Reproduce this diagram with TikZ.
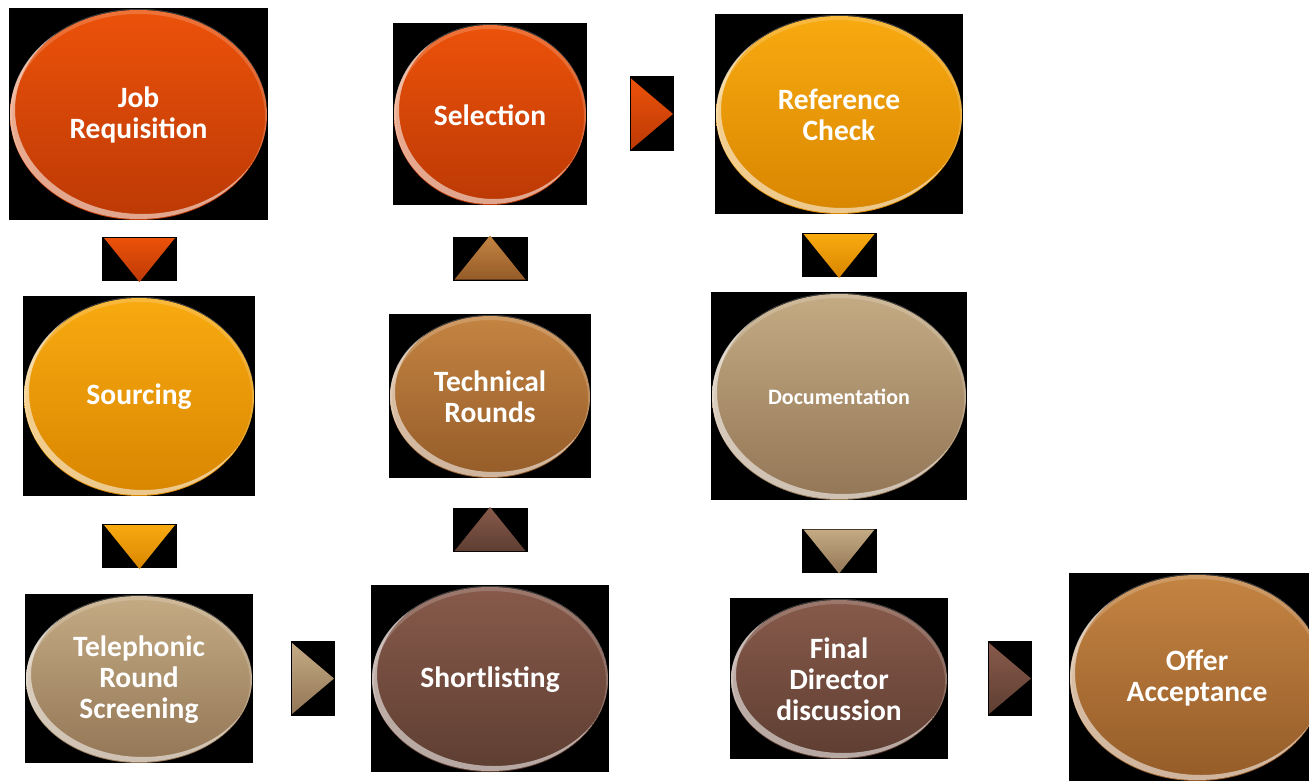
\documentclass[tikz,border=0pt]{standalone}
\usepackage{fontspec}
\setmainfont{Carlito}
\usepackage{tikz}
\usetikzlibrary{calc,positioning,shapes.geometric}

\definecolor{redtop}{HTML}{EC520A}
\definecolor{redbot}{HTML}{BC3905}
\definecolor{ortop}{HTML}{F8AA10}
\definecolor{orbot}{HTML}{D88600}
\definecolor{tantop}{HTML}{C4AB84}
\definecolor{tanbot}{HTML}{937656}
\definecolor{brtop}{HTML}{875A4B}
\definecolor{brbot}{HTML}{5E3E32}
\definecolor{cutop}{HTML}{C48442}
\definecolor{cubot}{HTML}{955C29}

\tikzset{
  blackbox/.style={fill=black, inner sep=0pt, outer sep=0pt},
  ball/.style={ellipse, inner sep=0pt, outer sep=0pt, text=white, align=center,
    font=\bfseries\fontsize{29.5}{31}\selectfont},
  tribox/.style={blackbox, minimum width=75, minimum height=44},
  tribox r/.style={blackbox, minimum width=44, minimum height=75},
}

% one step: black box, shaded ball, rim light
\newcommand\ballstep[9][]{%
  \node[blackbox, minimum width=#4, minimum height=#5] (#2box) at (#3) {};
  \node[ball, minimum width={#4-2}, minimum height={#5-2},
    top color=#6, bottom color=#7, #1] (#2) at ([yshift=-1]#2box.center) {#8};
  \begin{scope}
    \clip (#2box.center) ellipse [x radius={(#4-2)/2*1pt}, y radius={(#5-2)/2*1pt}];
    \fill[white, opacity=.55, even odd rule]
      (#2box.center) ellipse [x radius={(#4-2)/2*1pt}, y radius={(#5-2)/2*1pt}]
      ($(#2box.center)+(4,-4)$) ellipse [x radius={(#4-4)/2*1pt}, y radius={(#5-4)/2*1pt}];
    \fill[white, opacity=.18, even odd rule]
      (#2box.center) ellipse [x radius={(#4-2)/2*1pt}, y radius={(#5-2)/2*1pt}]
      ($(#2box.center)+(0,3)$) ellipse [x radius={(#4-6)/2*1pt}, y radius={(#5-6)/2*1pt}];
  \end{scope}
  #9}

\begin{document}
\begin{tikzpicture}[x=1pt, y=-1pt]
\path[use as bounding box, clip] (0,0) rectangle (1309,781);

% first column
\ballstep{job}{138.5,114}{259}{212}{redtop}{redbot}{Job\\Requisition}{}
\ballstep{src}{139,396}{232}{200}{ortop}{orbot}{Sourcing}{}
\ballstep{tel}{139,678.5}{228}{169}{tantop}{tanbot}{Telephonic\\Round\\Screening}{}
% second column
\ballstep{short}{490,678.5}{238}{187}{brtop}{brbot}{Shortlisting}{}
\ballstep{tech}{490,396}{202}{164}{cutop}{cubot}{Technical\\Rounds}{}
\ballstep{sel}{490,114}{194}{182}{redtop}{redbot}{Selection}{}
% third column
\ballstep{ref}{839,114}{248}{200}{ortop}{orbot}{Reference\\Check}{}
\ballstep[font=\bfseries\fontsize{22}{26}\selectfont]{doc}{839,396}{256}{208}{tantop}{tanbot}{Documentation}{}
\ballstep{fin}{839,678.5}{218}{161}{brtop}{brbot}{Final\\Director\\discussion}{}
\ballstep{offer}{1197,677}{256}{208}{cutop}{cubot}{Offer\\Acceptance}{}

% arrows between the steps
\node[tribox] (a1) at (139.5,259) {};
\node[tribox] (a2) at (139.5,546) {};
\node[tribox r] (a3) at (313,678.5) {};
\node[tribox] (a4) at (490,530) {};
\node[tribox] (a5) at (490,258.5) {};
\node[tribox r] (a6) at (652,114) {};
\node[tribox] (a7) at (839,255) {};
\node[tribox] (a8) at (839,550.5) {};
\node[tribox r] (a9) at (1010,678.5) {};

\shade[top color=redtop, bottom color=redbot]
  ([shift={(2,1)}]a1.north west) -- ([shift={(-2,1)}]a1.north east) -- ([yshift=-1]a1.south) -- cycle;
\shade[top color=ortop, bottom color=orbot]
  ([shift={(2,1)}]a2.north west) -- ([shift={(-2,1)}]a2.north east) -- ([yshift=-1]a2.south) -- cycle;
\shade[top color=tantop, bottom color=tanbot]
  ([shift={(1,2)}]a3.north west) -- ([xshift=-1]a3.east) -- ([shift={(1,-2)}]a3.south west) -- cycle;
\shade[top color=brtop, bottom color=brbot]
  ([shift={(2,-1)}]a4.south west) -- ([shift={(-2,-1)}]a4.south east) -- ([yshift=1]a4.north) -- cycle;
\shade[top color=cutop, bottom color=cubot]
  ([shift={(2,-1)}]a5.south west) -- ([shift={(-2,-1)}]a5.south east) -- ([yshift=1]a5.north) -- cycle;
\shade[top color=redtop, bottom color=redbot]
  ([shift={(1,2)}]a6.north west) -- ([xshift=-1]a6.east) -- ([shift={(1,-2)}]a6.south west) -- cycle;
\shade[top color=ortop, bottom color=orbot]
  ([shift={(2,1)}]a7.north west) -- ([shift={(-2,1)}]a7.north east) -- ([yshift=-1]a7.south) -- cycle;
\shade[top color=tantop, bottom color=tanbot]
  ([shift={(2,1)}]a8.north west) -- ([shift={(-2,1)}]a8.north east) -- ([yshift=-1]a8.south) -- cycle;
\shade[top color=brtop, bottom color=brbot]
  ([shift={(1,2)}]a9.north west) -- ([xshift=-1]a9.east) -- ([shift={(1,-2)}]a9.south west) -- cycle;
\end{tikzpicture}
\end{document}
